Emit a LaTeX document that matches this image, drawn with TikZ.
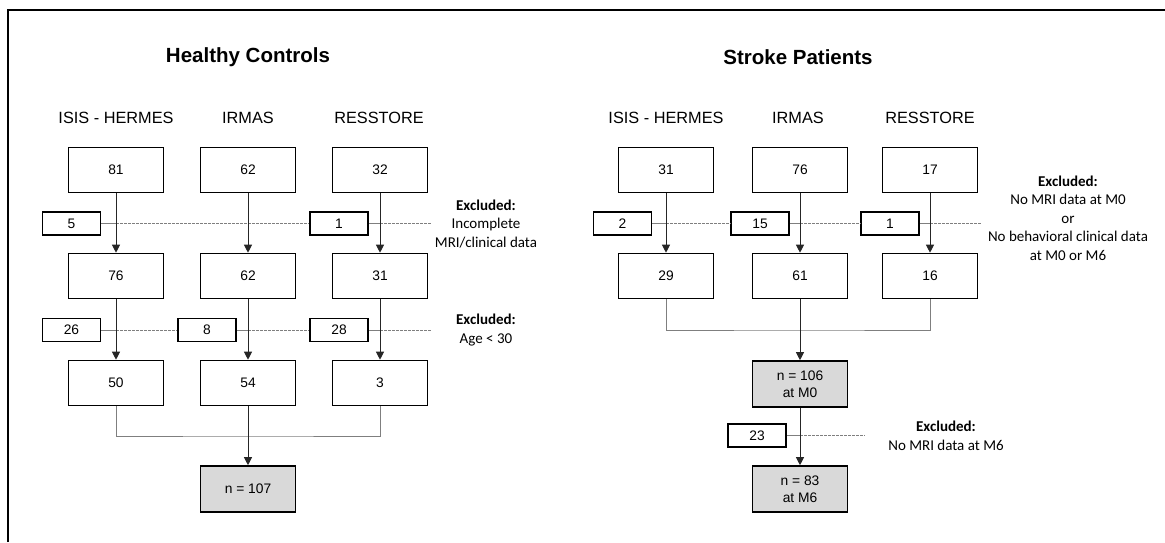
\documentclass[tikz,border=0pt]{standalone}
\usepackage{fontspec}
\setmainfont{Liberation Sans}
\newfontfamily\calibri{Carlito}
\usetikzlibrary{arrows.meta}
\definecolor{fillgray}{HTML}{D9D9D9}
\definecolor{linegray}{HTML}{7F7F7F}
\definecolor{darkline}{HTML}{262626}

\begin{document}
\begin{tikzpicture}[x=1pt, y=-1pt, every node/.style={font=\fontsize{13.8}{16.7}\selectfont},
    box/.style={draw, line width=1.6pt, minimum width=95pt, minimum height=45pt, inner sep=0pt},
    smallbox/.style={draw, line width=1.5pt, minimum width=58pt, minimum height=23pt, inner sep=0pt},
    totalbox/.style={box, fill=fillgray, minimum height=46pt, align=center},
    title/.style={font=\fontsize{20.5}{24}\selectfont\bfseries},
    header/.style={font=\fontsize{16.3}{19}\selectfont},
    excl/.style={font=\calibri\fontsize{15}{18.5}\selectfont, align=center},
    link/.style={line width=1pt, darkline},
    arrow/.style={link, -{Triangle[width=8pt,length=8pt]}},
    joinline/.style={line width=1pt, linegray},
    dotline/.style={line width=0.9pt, linegray, dash pattern=on 2.5pt off 1.5pt}]

    \useasboundingbox (0,0) rectangle (1165,542);

    % Draw the frame (only top and left edges are visible)
    \draw[line width=1.5pt] (8,542) -- (8,10) -- (1166,10);

    % Healthy controls: titles
    \node[title] (hcTitle) at (248,57) {Healthy Controls};
    \node[header] (hcHead1) at (116,118) {ISIS - HERMES};
    \node[header] (hcHead2) at (248,118) {IRMAS};
    \node[header] (hcHead3) at (379,118) {RESSTORE};

    % Healthy controls: boxes
    \node[box] (hcIsis1) at (116,170) {81};
    \node[box] (hcIrmas1) at (248,170) {62};
    \node[box] (hcRes1) at (380,170) {32};
    \node[box] (hcIsis2) at (116,276) {76};
    \node[box] (hcIrmas2) at (248,276) {62};
    \node[box] (hcRes2) at (380,276) {31};
    \node[box] (hcIsis3) at (116,383) {50};
    \node[box] (hcIrmas3) at (248,383) {54};
    \node[box] (hcRes3) at (380,383) {3};
    \node[totalbox] (hcTotal) at (248,489) {n = 107};

    % Healthy controls: excluded counts
    \node[smallbox] (hcOut1a) at (71.5,223.5) {5};
    \node[smallbox] (hcOut1c) at (339,223.5) {1};
    \node[smallbox] (hcOut2a) at (71.5,330) {26};
    \node[smallbox] (hcOut2b) at (207,330) {8};
    \node[smallbox] (hcOut2c) at (339,330) {28};
    \coordinate (hcEnd1) at (430.5,223.5);
    \coordinate (hcEnd2) at (430.5,330);
    \coordinate (hcJoin) at (248,436);

    % Healthy controls: exclusion reasons
    \node[excl] (hcExcl1) at (486,224) {\textbf{Excluded:}\\Incomplete\\MRI/clinical data};
    \node[excl] (hcExcl2) at (486,330) {\textbf{Excluded:}\\Age < 30};

    % Healthy controls: dashed exclusion lines
    \draw[joinline] (hcOut1a.east) -- (hcOut1a.east -| hcIsis1.south);
    \draw[dotline] (hcOut1a.east -| hcIsis1.south) -- (hcOut1c.west);
    \draw[joinline] (hcOut1c.east) -- (hcOut1c.east -| hcRes1.south);
    \draw[dotline] (hcOut1c.east -| hcRes1.south) -- (hcEnd1);
    \draw[joinline] (hcOut2a.east) -- (hcOut2a.east -| hcIsis2.south);
    \draw[dotline] (hcOut2a.east -| hcIsis2.south) -- (hcOut2b.west);
    \draw[joinline] (hcOut2b.east) -- (hcOut2b.east -| hcIrmas2.south);
    \draw[dotline] (hcOut2b.east -| hcIrmas2.south) -- (hcOut2c.west);
    \draw[joinline] (hcOut2c.east) -- (hcOut2c.east -| hcRes2.south);
    \draw[dotline] (hcOut2c.east -| hcRes2.south) -- (hcEnd2);

    % Healthy controls: arrows
    \draw[arrow] (hcIsis1) -- (hcIsis2);
    \draw[arrow] (hcIrmas1) -- (hcIrmas2);
    \draw[arrow] (hcRes1) -- (hcRes2);
    \draw[arrow] (hcIsis2) -- (hcIsis3);
    \draw[arrow] (hcIrmas2) -- (hcIrmas3);
    \draw[arrow] (hcRes2) -- (hcRes3);
    \draw[joinline] (hcIsis3.south) |- (hcJoin) -| (hcRes3.south);
    \draw[arrow] (hcIrmas3) -- (hcTotal);

    % Stroke patients: titles
    \node[title] (spTitle) at (798,57) {Stroke Patients};
    \node[header] (spHead1) at (666,118) {ISIS - HERMES};
    \node[header] (spHead2) at (798,118) {IRMAS};
    \node[header] (spHead3) at (930,118) {RESSTORE};

    % Stroke patients: boxes
    \node[box] (spIsis1) at (666,170) {31};
    \node[box] (spIrmas1) at (800,170) {76};
    \node[box] (spRes1) at (930,170) {17};
    \node[box] (spIsis2) at (666,276) {29};
    \node[box] (spIrmas2) at (800,276) {61};
    \node[box] (spRes2) at (930,276) {16};
    \node[totalbox] (spM0) at (800,384) {n = 106\\at M0};
    \node[totalbox] (spM6) at (800,489) {n = 83\\at M6};

    % Stroke patients: excluded counts
    \node[smallbox] (spOut1a) at (622.5,223.5) {2};
    \node[smallbox] (spOut1b) at (760,223.5) {15};
    \node[smallbox] (spOut1c) at (890,223.5) {1};
    \node[smallbox] (spOut2) at (757,435.5) {23};
    \coordinate (spEnd1) at (981,223.5);
    \coordinate (spEnd2) at (865,435.5);
    \coordinate (spJoin) at (800,330);

    % Stroke patients: exclusion reasons
    \node[excl] (spExcl1) at (1068,218) {\textbf{Excluded:}\\No MRI data at M0\\or\\No behavioral clinical data\\at M0 or M6};
    \node[excl] (spExcl2) at (946,436) {\textbf{Excluded:}\\No MRI data at M6};

    % Stroke patients: dashed exclusion lines
    \draw[joinline] (spOut1a.east) -- (spOut1a.east -| spIsis1.south);
    \draw[dotline] (spOut1a.east -| spIsis1.south) -- (spOut1b.west);
    \draw[joinline] (spOut1b.east) -- (spOut1b.east -| spIrmas1.south);
    \draw[dotline] (spOut1b.east -| spIrmas1.south) -- (spOut1c.west);
    \draw[joinline] (spOut1c.east) -- (spOut1c.east -| spRes1.south);
    \draw[dotline] (spOut1c.east -| spRes1.south) -- (spEnd1);
    \draw[joinline] (spOut2.east) -- (spOut2.east -| spM0.south);
    \draw[dotline] (spOut2.east -| spM0.south) -- (spEnd2);

    % Stroke patients: arrows
    \draw[arrow] (spIsis1) -- (spIsis2);
    \draw[arrow] (spIrmas1) -- (spIrmas2);
    \draw[arrow] (spRes1) -- (spRes2);
    \draw[joinline] (spIsis2.south) |- (spJoin) -| (spRes2.south);
    \draw[arrow] (spIrmas2) -- (spM0);
    \draw[arrow] (spM0) -- (spM6);

\end{tikzpicture}
\end{document}
